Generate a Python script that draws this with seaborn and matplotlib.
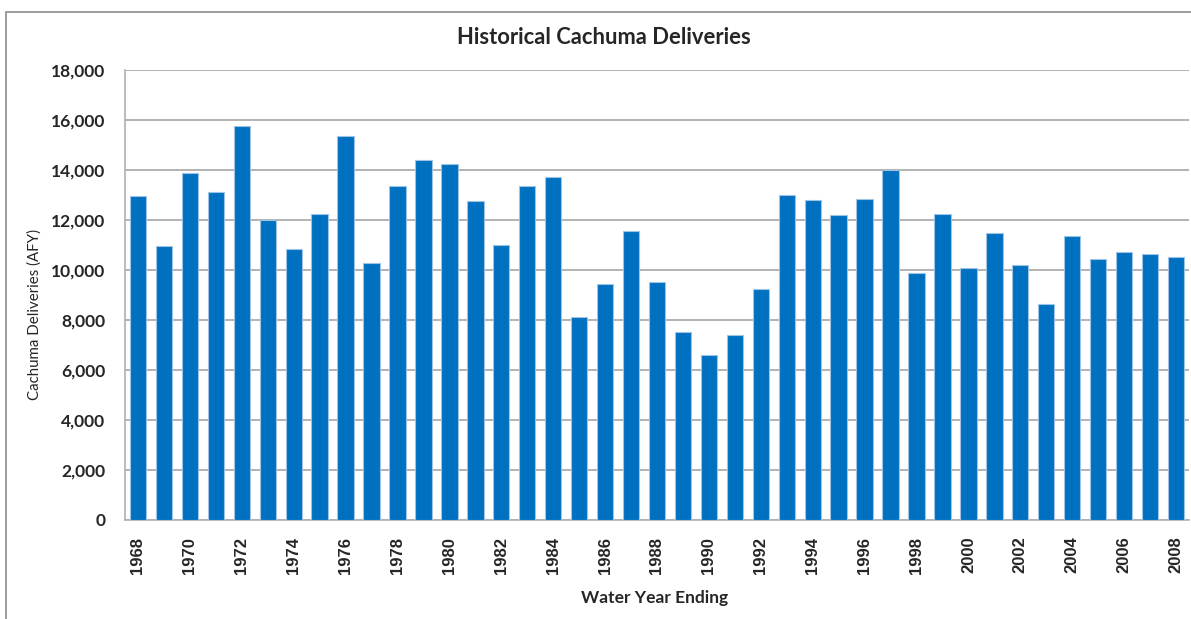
import matplotlib
matplotlib.use('Agg')
import matplotlib.pyplot as plt
import seaborn as sns
from matplotlib.patches import Rectangle

# Water year ending and deliveries (AFY)
years = [str(y) for y in range(1968, 2009)]
deliveries = [
    12960, 10960, 13880, 13130, 15750, 12000, 10840, 12240, 15350, 10280,
    13370, 14390, 14250, 12760, 11000, 13370, 13730, 8110, 9430, 11560,
    9520, 7510, 6590, 7390, 9230, 13010, 12800, 12200, 12840, 13990,
    9880, 12240, 10070, 11480, 10200, 8630, 11360, 10440, 10720, 10640,
    10520,
]
y_ticks = list(range(0, 18001, 2000))

W, H = 1191, 619
BAR_BLUE = '#0070C0'

sns.set_style("white")
plt.rcParams['font.family'] = ['Lato', 'DejaVu Sans']

fig = plt.figure(figsize=(W / 100, H / 100), dpi=100)
fig.patch.set_facecolor('white')

# outer chart-area border (left and top visible)
fig.patches.append(Rectangle((6 / W, -0.05), 1.1, (H - 12) / H + 0.05,
                             transform=fig.transFigure, fill=False,
                             edgecolor='#8C8C8C', linewidth=1.2))

left, right, top, bottom = 125, 1189, 70, 520
ax = fig.add_axes([left / W, (H - bottom) / H, (right - left) / W, (bottom - top) / H])

sns.barplot(x=years, y=deliveries, color=BAR_BLUE, width=0.63,
            edgecolor='#9DC3E6', linewidth=0.8, saturation=1, ax=ax, zorder=3)

ax.set_ylim(0, 18000)
ax.set_yticks(y_ticks)
ax.set_yticklabels([f'{v:,}' for v in y_ticks], fontsize=12.5, fontweight='bold')
ax.set_xticks(range(0, len(years), 2))
ax.set_xticklabels(years[::2], rotation=90, fontsize=12,
                   fontweight='bold', family='Liberation Sans')
ax.tick_params(axis='y', length=0, pad=14)
ax.tick_params(axis='x', length=0, pad=12)
ax.set_xlabel('')
ax.set_ylabel('')

ax.yaxis.grid(True, color='#A6A6A6', linewidth=1.2, zorder=0)
ax.set_axisbelow(True)
for side in ['top', 'right']:
    ax.spines[side].set_visible(False)
for side in ['left', 'bottom']:
    ax.spines[side].set_color('#B0B0B0')
    ax.spines[side].set_linewidth(1.2)

fig.text(603.5 / W, 1 - 37 / H, 'Historical Cachuma Deliveries',
         ha='center', va='center', fontsize=15.8, fontweight='bold')
fig.text(35 / W, 1 - 315 / H, 'Cachuma Deliveries (AFY)', rotation=90,
         ha='center', va='center', fontsize=10.8)
fig.text(655 / W, 1 - 598 / H, 'Water Year Ending',
         ha='center', va='center', fontsize=12.5, fontweight='bold')

plt.savefig('out.png', dpi=100)
plt.close()
